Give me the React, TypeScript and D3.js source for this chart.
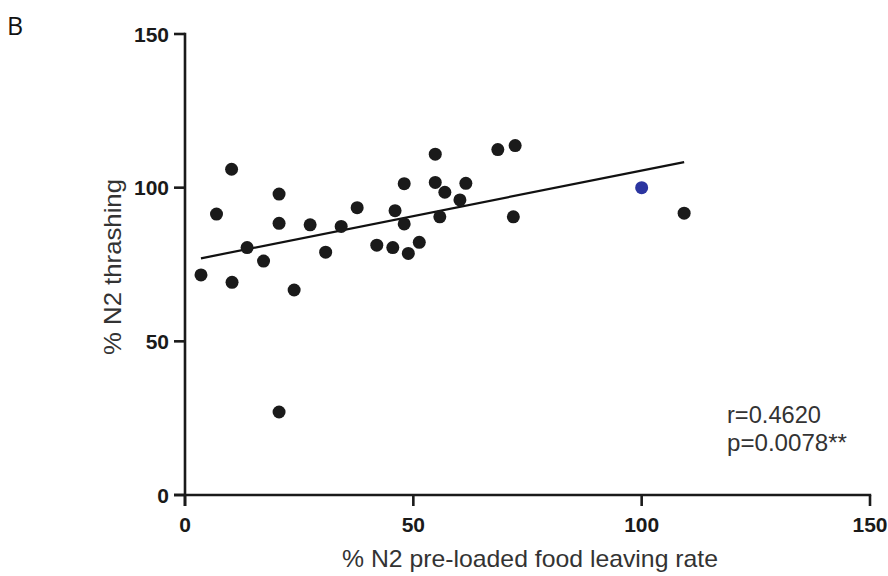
import React from "react";
import * as d3 from "d3";

const leavingRate = [3.5, 6.9, 10.2, 10.3, 13.6, 17.2, 20.6, 20.6, 20.6, 23.9, 27.4, 30.8, 34.2, 37.7, 42.0, 45.5, 46.0, 48.0, 48.0, 48.9, 51.3, 54.8, 54.8, 55.8, 56.9, 60.2, 61.5, 68.5, 72.3, 71.9, 109.3];
const thrashing = [71.6, 91.4, 106.0, 69.2, 80.5, 76.1, 97.9, 88.4, 27.0, 66.7, 87.9, 79.0, 87.4, 93.5, 81.3, 80.5, 92.5, 101.3, 88.2, 78.6, 82.2, 110.9, 101.7, 90.5, 98.5, 96.0, 101.4, 112.4, 113.7, 90.5, 91.7];
const referenceX = [100];
const referenceY = [100];
const fitSlope = 0.2957;
const fitIntercept = 75.98;
const xTicks = [0, 50, 100, 150];
const yTicks = [0, 50, 100, 150];
const statsLines = ["r=0.4620", "p=0.0078**"];

export default function App() {
  const W = 888, H = 576;
  const x = d3.scaleLinear().domain([0, 150]).range([185, 870]);
  const y = d3.scaleLinear().domain([0, 150]).range([495, 34]);
  const xMin = d3.min(leavingRate) as number;
  const xMax = d3.max(leavingRate) as number;
  const fitLine = d3.line<number>().x(d => x(d)).y(d => y(fitIntercept + fitSlope * d));
  const pts = leavingRate.map((v, i) => [v, thrashing[i]]);
  const font = "'Liberation Sans', Arial, Helvetica, sans-serif";
  return (
    <svg width={W} height={H} style={{ position: "absolute", left: 0, top: 0, background: "#fff" }} fontFamily={font}>
      <text x={7} y={35} fontSize={25} fontFamily="'Open Sans', sans-serif" fill="#111">B</text>
      {/* y axis */}
      <line x1={x(0)} x2={x(0)} y1={y(150) - 1.2} y2={y(0) + 11} stroke="#1a1a1a" strokeWidth={2.6} />
      {yTicks.map(t => (
        <g key={"y" + t}>
          <line x1={x(0) - 11} x2={x(0)} y1={y(t)} y2={y(t)} stroke="#1a1a1a" strokeWidth={2.6} />
          <text x={x(0) - 16} y={y(t)} dy="0.36em" textAnchor="end" fontSize={21} fontWeight="bold" fill="#1a1a1a">{t}</text>
        </g>
      ))}
      {/* x axis */}
      <line x1={x(0) - 11} x2={x(150) + 1.2} y1={y(0)} y2={y(0)} stroke="#1a1a1a" strokeWidth={2.6} />
      {xTicks.map(t => (
        <g key={"x" + t}>
          <line x1={x(t)} x2={x(t)} y1={y(0)} y2={y(0) + 11} stroke="#1a1a1a" strokeWidth={2.6} />
          <text x={x(t)} y={y(0) + 37} textAnchor="middle" fontSize={21} fontWeight="bold" fill="#1a1a1a">{t}</text>
        </g>
      ))}
      <text x={530} y={567} textAnchor="middle" fontSize={24} textLength={376} lengthAdjust="spacingAndGlyphs" fill="#333">% N2 pre-loaded food leaving rate</text>
      <text transform={`translate(121,267) rotate(-90)`} textAnchor="middle" fontSize={24} textLength={176} lengthAdjust="spacingAndGlyphs" fill="#333">% N2 thrashing</text>
      <path d={fitLine([xMin, xMax]) as string} stroke="#111" strokeWidth={2.2} fill="none" />
      {pts.map((p, i) => (
        <circle key={i} cx={x(p[0])} cy={y(p[1])} r={6.5} fill="#1a1a1a" />
      ))}
      {referenceX.map((v, i) => (
        <circle key={"r" + i} cx={x(v)} cy={y(referenceY[i])} r={6.5} fill="#2b35a0" />
      ))}
      <text x={727} y={423} fontSize={23.5} textLength={94} lengthAdjust="spacingAndGlyphs" fill="#333">{statsLines[0]}</text>
      <text x={727} y={451} fontSize={23.5} textLength={120} lengthAdjust="spacingAndGlyphs" fill="#333">{statsLines[1]}</text>
    </svg>
  );
}
